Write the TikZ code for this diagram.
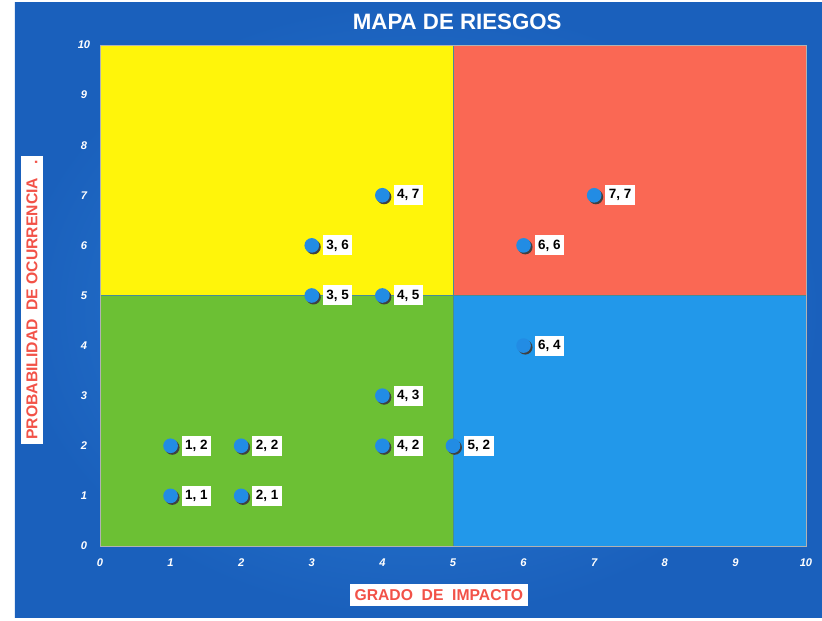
\documentclass[tikz,border=0pt]{standalone}
\usepackage{fontspec}
\setmainfont{Liberation Sans}
\usetikzlibrary{positioning}

\definecolor{bgin}{RGB}{46,128,216}
\definecolor{bgout}{RGB}{26,96,188}
\definecolor{lowgreen}{RGB}{108,192,52}
\definecolor{hiyellow}{RGB}{255,245,10}
\definecolor{hired}{RGB}{250,104,84}
\definecolor{lowblue}{RGB}{34,152,234}
\definecolor{dotblue}{RGB}{34,140,228}
\definecolor{axisred}{RGB}{242,82,72}
\definecolor{divline}{RGB}{70,140,150}

\tikzset{
  dot/.style={circle,fill=dotblue,minimum size=0.44cm,inner sep=0pt},
  tag/.style={fill=white,inner xsep=3pt,minimum height=0.6cm,font=\bfseries\fontsize{11.5}{12}\selectfont},
  ticklbl/.style={text=white,font=\bfseries\itshape\fontsize{9.5}{10}\selectfont},
  axislbl/.style={fill=white,text=axisred,inner xsep=4pt,minimum height=0.66cm,font=\bfseries\fontsize{13.4}{14}\selectfont}
}

\begin{document}
\begin{tikzpicture}[x=2.118cm,y=1.503cm]
		\useasboundingbox (-1.416,-1.497) rectangle (10.227,10.898);
		\shade[inner color=bgin,outer color=bgout] (-1.204,-1.437) rectangle (10.227,10.858);
		% cuadrantes
		\fill[lowgreen] (0,0) rectangle (5,5);
		\fill[hiyellow] (0,5) rectangle (5,10);
		\fill[hired] (5,5) rectangle (10,10);
		\fill[lowblue] (5,0) rectangle (10,5);
		\draw[divline,thin] (0,5) -- (10,5);
		\draw[divline,thin] (5,0) -- (5,10);
		\draw[gray!60,thin] (0,0) rectangle (10,10);
		\foreach \k in {0,...,10} {
			\node[ticklbl] (xt\k) at (\k,-0.34) {\k};
			\node[ticklbl] (yt\k) at (-0.227,\k) {\k};
		}
		\node[text=white,font=\bfseries\fontsize{19}{21}\selectfont] (title) at (5.06,10.46) {MAPA DE RIESGOS};
		\node[axislbl] (xlab) at (4.80,-0.978) {GRADO\ \ DE\ \ IMPACTO};
		\node[axislbl,rotate=90] (ylab) at (-0.963,4.91) {PROBABILIDAD\ \ DE OCURRENCIA\ \ \ .};
		% riesgos
		\foreach \x/\y in {1/1,1/2,2/1,2/2,3/5,3/6,4/2,4/3,4/5,4/7,5/2,6/4,6/6,7/7} {
			\fill[black!75] (\x,\y) ++(0.05cm,-0.05cm) circle (0.22cm);
			\node[dot] (p\x\y) at (\x,\y) {};
			\node[tag,right=0.1cm of p\x\y] (t\x\y) {\x, \y};
		}
\end{tikzpicture}
\end{document}
